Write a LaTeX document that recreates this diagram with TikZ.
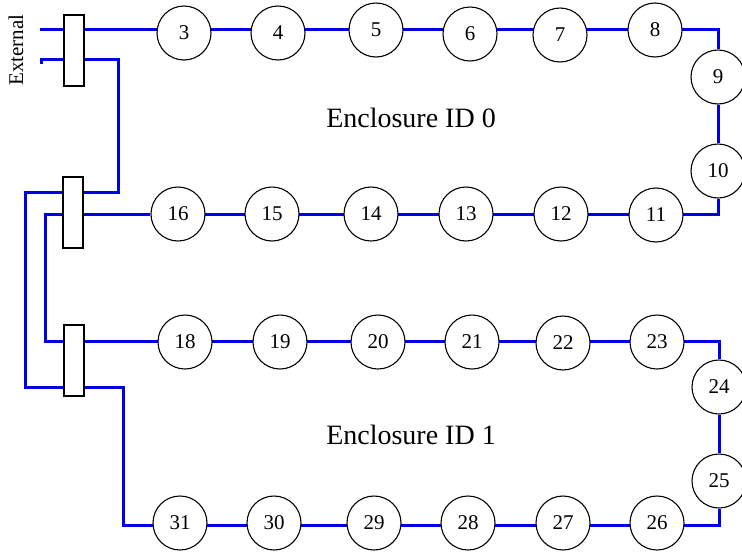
\documentclass[tikz,border=0pt]{standalone}
\usepackage{fontspec}
\setmainfont{Liberation Serif}
\usetikzlibrary{positioning,calc,backgrounds}
\definecolor{wireblue}{RGB}{0,0,230}

\begin{document}
\begin{tikzpicture}[x=1pt,y=-1pt,
    disk/.style={circle,draw,fill=white,line width=1.1pt,minimum size=54pt,inner sep=0pt,font=\fontsize{21}{21}\selectfont},
    plug/.style={rectangle,draw,fill=white,line width=2pt,minimum width=20pt,minimum height=71pt,inner sep=0pt},
    wire/.style={draw=wireblue,line width=3pt}]
    \useasboundingbox (0,0) rectangle (742,552);
    % connectors between enclosures
    \node[plug](p0) at (74,50.5){};
    \node[plug](p1) at (73,212.5){};
    \node[plug](p2) at (73.5,360.5){};
    \node[rotate=90,font=\fontsize{21}{21}\selectfont](ext) at (16,50){External};
    % enclosure 0
    \node[disk](d3) at (184,33){3};
    \node[disk](d4) at (278,33){4};
    \node[disk](d5) at (376,30){5};
    \node[disk](d6) at (470,34){6};
    \node[disk](d7) at (560,35){7};
    \node[disk](d8) at (655,30){8};
    \node[disk](d9) at (718,77){9};
    \node[disk](d10) at (718,171){10};
    \node[disk](d11) at (656,215){11};
    \node[disk](d12) at (561,214){12};
    \node[disk](d13) at (466,214){13};
    \node[disk](d14) at (371,214){14};
    \node[disk](d15) at (272,214){15};
    \node[disk](d16) at (178,214){16};
    \node[font=\fontsize{28}{28}\selectfont](enc0) at (411,118){Enclosure ID 0};
    % enclosure 1
    \node[disk](d18) at (185,342){18};
    \node[disk](d19) at (280,342){19};
    \node[disk](d20) at (378,342){20};
    \node[disk](d21) at (472,342){21};
    \node[disk](d22) at (563,343){22};
    \node[disk](d23) at (657,342){23};
    \node[disk](d24) at (719,387){24};
    \node[disk](d25) at (719,481){25};
    \node[disk](d26) at (657,523){26};
    \node[disk](d27) at (563,523){27};
    \node[disk](d28) at (468,523){28};
    \node[disk](d29) at (374,523){29};
    \node[disk](d30) at (274,523){30};
    \node[disk](d31) at (180,523){31};
    \node[font=\fontsize{28}{28}\selectfont](enc1) at (411,435){Enclosure ID 1};
    % wire corners
    \coordinate(in0) at (40,29);
    \coordinate(in1) at (41.5,64);
    \coordinate(r0) at (718,29);
    \coordinate(r1) at (718,214);
    \coordinate(r2) at (719,341.5);
    \coordinate(r3) at (719,525);
    \coordinate(l0) at (118,59);
    \coordinate(l1) at (118,192);
    \coordinate(l2) at (25,192);
    \coordinate(l3) at (25,387);
    \coordinate(l4) at (123,387);
    \coordinate(l5) at (45,214);
    \coordinate(l6) at (45,341.5);
    \begin{scope}[on background layer]
        \draw[wire](in0)--(d3|-in0)--(d4|-in0)--(d5|-in0)--(d6|-in0)--(d7|-in0)--(d8|-in0)--(r0)--(d9);
        \draw[wire](d9)--(d10);
        \draw[wire](d10)--(r1)--(d11|-r1)--(d12|-r1)--(d13|-r1)--(d14|-r1)--(d15|-r1)--(d16|-r1);
        \draw[wire](d16)--(l5)--(l6)--(d18|-l6);
        \draw[wire](d18|-l6)--(d19|-l6)--(d20|-l6)--(d21|-l6)--(d22|-l6)--(d23|-l6)--(r2)--(d24);
        \draw[wire](d24)--(d25);
        \draw[wire](d25)--(r3)--(d26|-r3)--(d27|-r3)--(d28|-r3)--(d29|-r3)--(d30|-r3)--(d31|-r3);
        \draw[wire](in1)--(in1|-l0)--(l0)--(l1)--(l2)--(l3)--(l4)--(l4|-r3)--(d31|-r3);
    \end{scope}
\end{tikzpicture}
\end{document}
